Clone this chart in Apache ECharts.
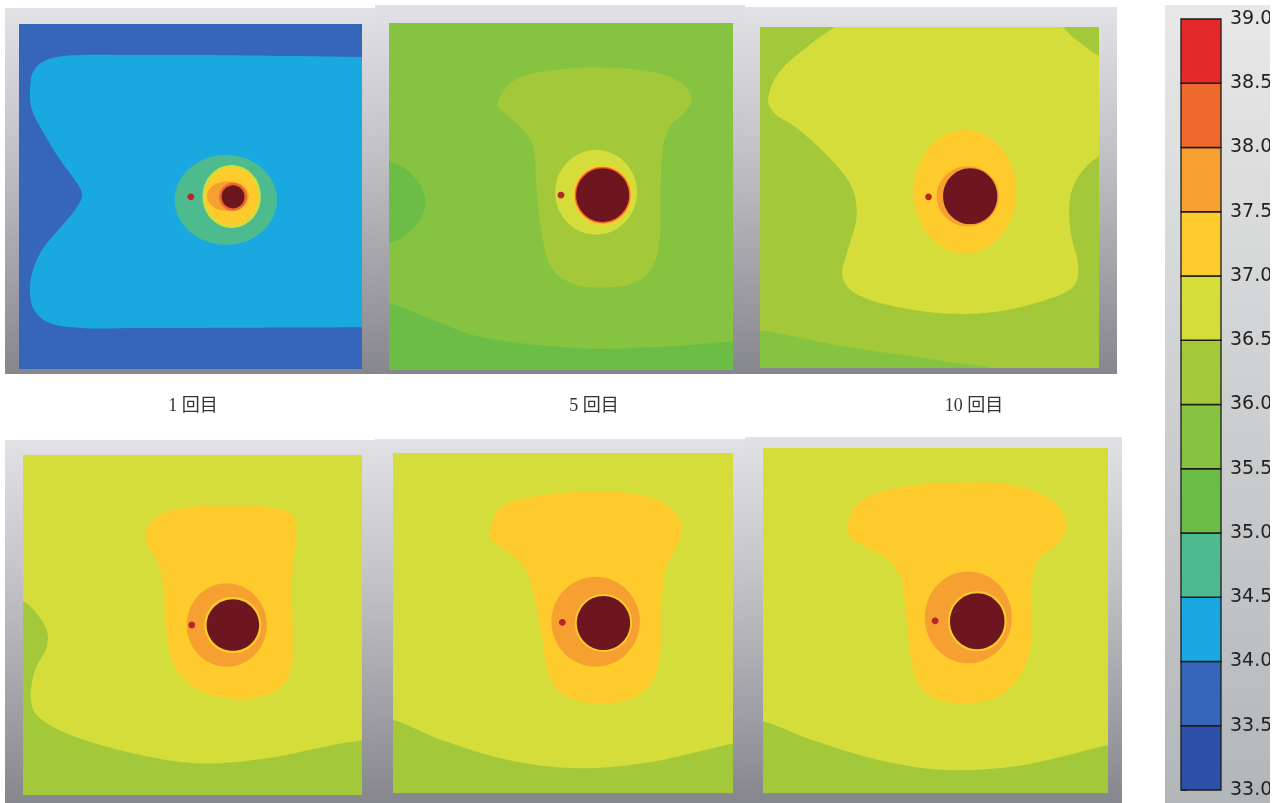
<!DOCTYPE html>
<html>
<head>
<meta charset="utf-8">
<script src="https://cdn.jsdelivr.net/npm/echarts@6.0.0/dist/echarts.min.js"></script>
<style>
html,body{margin:0;padding:0;background:#fff;overflow:hidden;}
#chart{width:1270px;height:803px;}
</style>
</head>
<body>
<div id="chart"></div>
<script>
// ---------------- data ----------------
// temperature bands of the colour scale (lower bound of each 0.5 degC band)
const bandLows = [33.0, 33.5, 34.0, 34.5, 35.0, 35.5, 36.0, 36.5, 37.0, 37.5, 38.0, 38.5];
const bandColors = ['#2d50a8','#3566b9','#19a9e0','#4dbb8e','#6bbd46','#86c341','#a3c93b','#d4dd3a','#fdcb2b','#f6a031','#ee6a2c','#e4292a'];
const coreColor = '#6e1620';   // > 39.0 (heat source)
const dotColor = '#b8262b';    // sensor point
const panelTitles = ['1 回目', '5 回目', '10 回目'];

// contour outlines, in normalised domain units (x 0-100 left->right, y 0-100 top->bottom)
const P1_CYAN = [[17.8,9.0],[35,9.0],[52.8,9.0],[80,9.3],[100,9.6],[120,9.8],[120,87.8],[100,87.9],[80,88.0],[52.8,88.1],[35,88.1],[17.8,88.1],[9.0,86.7],[4.4,82.9],[3.2,77.1],[4.1,71.3],[6.7,65.5],[11.4,59.7],[16.3,53.9],[18.4,49.6],[16.3,45.2],[12.0,39.4],[6.7,30.7],[3.8,24.9],[3.2,19.1],[4.4,13.3],[9.0,10.1]];

const P2_LEFT = [[-8,38],[2,40.5],[7,44],[10.5,50],[9.5,56],[5,61],[0,63.5],[-8,64]];
const P2_BOTTOM = [[-10,80.3],[0.3,80.8],[10,84.5],[26.5,90.4],[55.5,93.7],[80,93.3],[100.1,91.8],[112,91.5],[112,115],[-10,115]];
const P2_BELL = [[31.8,22.2],[35.2,17.4],[41.0,14.7],[52.6,13.1],[62.3,12.9],[73.9,13.7],[83.6,16.4],[88.0,21.2],[86.5,25.1],[81.7,29.9],[79.7,35.6],[79.0,46.2],[78.8,60.6],[76.8,70.2],[71.0,75.0],[62.3,76.2],[53.6,75.2],[47.3,70.7],[44.4,60.6],[42.9,47.2],[41.9,35.6],[39.0,30.8],[34.2,26.5],[31.8,24.1]];

const P3_BOTTOM = [[-10,88.3],[0,88.9],[25.1,93.7],[54.6,98.1],[72,102],[72,115],[-10,115]];
const P3_MAIN = [[28,-4],[55,-8],[85,-3],[93,3.5],[100,8.5],[112,14],[112,33],[99.8,38.0],[93.9,43.9],[91.4,50.7],[91.7,60.5],[93.9,70.3],[92.4,76.2],[84.1,80.1],[69.3,83.5],[54.6,84.0],[39.8,82.0],[28.0,78.1],[24.3,73.2],[25.6,66.4],[28.5,55.6],[27.0,46.8],[20.1,38.0],[10.3,29.2],[4.5,25.5],[2.4,21.4],[5.4,13.6],[15.2,4.8],[22,0]];

const P4_GREEN = [[-8,42.5],[0,43.1],[4.0,46.6],[7.0,51.5],[7.0,56.4],[4.0,62.3],[2.6,67.1],[2.3,72],[4,76.5],[12.9,81.9],[32.5,87.7],[52.2,90.7],[71.9,89.2],[91.5,85.3],[99.9,84.0],[112,83],[112,115],[-8,115]];
const P4_BELL = [[36.5,22.1],[39.4,18.1],[46.3,15.7],[62.0,14.7],[74.8,15.7],[79.7,18.1],[80.7,23.0],[79.7,30.9],[79.3,43.6],[79.7,58.3],[77.3,67.1],[69.9,71.1],[61.1,71.6],[52.2,69.3],[45.3,63.2],[42.4,53.4],[41.4,38.7],[39.4,30.9],[36.5,26.0]];

const P5_BOTTOM = [[-10,77.5],[0.1,78.5],[14.3,84.4],[33.9,90.3],[53.5,92.7],[73.1,91.3],[87.9,88.3],[100.1,85.4],[112,84],[112,115],[-10,115]];
const P5_BELL = [[28.5,22.6],[32.0,15.8],[43.7,12.4],[63.3,11.4],[78.0,13.8],[83.9,18.7],[84.9,23.6],[82.4,29.5],[80.0,34.4],[79.0,44.2],[78.5,58.9],[76.1,67.7],[69.2,72.6],[58.4,73.6],[49.6,70.7],[45.7,64.8],[43.7,54.0],[40.8,39.3],[37.8,32.4],[32.9,28.5],[29.0,25.6]];

const P6_BOTTOM = [[-10,78.3],[0.1,79.3],[14.1,84.6],[33.4,90.4],[52.8,93.3],[72.1,92.4],[86.6,89.5],[100.1,86.1],[112,84.5],[112,115],[-10,115]];
const P6_BELL = [[24.3,22.8],[27.6,16.0],[38.3,11.7],[52.8,10.2],[72.1,10.7],[83.7,15.1],[88.0,21.8],[85.6,27.6],[79.8,32.5],[77.9,40.2],[77.9,54.7],[75.0,65.3],[68.2,72.1],[57.6,74.0],[48.9,72.1],[44.1,66.3],[42.1,54.7],[40.2,38.3],[36.3,32.5],[29.6,28.6],[25.2,25.7]];

// layers drawn bottom->top: [kind, band(0-11) | 12 core | 13 dot, ...geometry]
const panel1Layers = [['rect',1],['poly',2,P1_CYAN],['oval',3,60.3,51.0,14.9,13.0],['oval',7,62.0,50.0,8.5,9.1],['oval',8,62.0,50.0,7.7,8.3],['oval',9,60.9,49.9,6.1,4.3],['oval',10,62.4,50.1,4.1,4.1],['oval',12,62.4,50.1,3.35,3.35],['oval',13,50.1,50.1,1.0,1.0]];
const panel2Layers = [['rect',5],['poly',4,P2_LEFT],['poly',4,P2_BOTTOM],['poly',6,P2_BELL],['oval',7,60.2,48.8,11.9,12.2],['oval',8,62.1,49.6,8.6,8.7],['oval',10,62.1,49.6,8.1,8.2],['oval',12,62.1,49.6,7.7,7.75],['oval',13,50.0,49.6,1.0,1.0]];
const panel3Layers = [['rect',6],['poly',5,P3_BOTTOM],['poly',7,P3_MAIN],['oval',8,60.5,48.3,15.2,18.1],['oval',9,61.3,49.6,9.2,8.8],['oval',12,62.0,49.6,8.0,8.2],['oval',13,49.7,49.8,1.0,1.0]];
const panel4Layers = [['rect',7],['poly',6,P4_GREEN],['poly',8,P4_BELL],['oval',9,60.1,50.0,11.8,12.3],['oval',8,61.9,50.0,8.4,8.3],['oval',12,61.9,50.0,7.75,7.6],['oval',13,49.8,50.0,1.0,1.0]];
const panel5Layers = [['rect',7],['poly',6,P5_BOTTOM],['poly',8,P5_BELL],['oval',9,59.6,49.6,13.0,13.2],['oval',8,61.9,50.0,8.4,8.5],['oval',12,61.9,50.0,7.85,7.95],['oval',13,49.8,49.8,1.0,1.0]];
const panel6Layers = [['rect',7],['poly',6,P6_BOTTOM],['poly',8,P6_BELL],['oval',9,59.5,49.1,12.6,13.3],['oval',8,62.1,50.2,8.5,8.7],['oval',12,62.1,50.2,7.9,8.1],['oval',13,49.9,50.1,1.0,1.0]];

// ---------------- layout ----------------
const panelGrids = [
  {left:19, top:24, width:343, height:345},
  {left:389, top:23, width:344, height:347},
  {left:760, top:27, width:339, height:341},
  {left:23, top:455, width:339, height:340},
  {left:393, top:453, width:340, height:340},
  {left:763, top:448, width:345, height:345}
];
const frames = [
  [5, 8, 372, 366], [375, 5, 370, 369], [745, 7, 372, 367],
  [5, 440, 370, 363], [375, 439, 370, 364], [745, 437, 377, 366]
];
const titlePos = [[193, 406], [594, 406], [974, 406]];

const fills = bandColors.concat([coreColor, dotColor]);

function panelSeries(idx, layers) {
  return {
    type: 'custom',
    xAxisIndex: idx, yAxisIndex: idx,
    clip: true, silent: true,
    data: layers.map((l, i) => [i]),
    renderItem: function (params, api) {
      const L = layers[params.dataIndex];
      const fill = fills[L[1]];
      if (L[0] === 'rect') {
        const a = api.coord([0, 0]), b = api.coord([100, 100]);
        return {type: 'rect', shape: {x: Math.min(a[0], b[0]), y: Math.min(a[1], b[1]), width: Math.abs(b[0] - a[0]), height: Math.abs(b[1] - a[1])}, style: {fill: fill}};
      }
      if (L[0] === 'poly') {
        return {type: 'polygon', shape: {points: L[2].map(p => api.coord(p)), smooth: 0.35}, style: {fill: fill}};
      }
      const c = api.coord([L[2], L[3]]);
      const s = api.size([L[4], L[5]]);
      return {type: 'ellipse', shape: {cx: c[0], cy: c[1], rx: Math.abs(s[0]), ry: Math.abs(s[1])}, style: {fill: fill}};
    }
  };
}

const allLayers = [panel1Layers, panel2Layers, panel3Layers, panel4Layers, panel5Layers, panel6Layers];

const grids = panelGrids.map(g => Object.assign({outerBoundsMode: 'none', containLabel: false}, g));
grids.push({left: 1181, top: 19, width: 40, height: 771, outerBoundsMode: 'none', containLabel: false});

const xAxes = panelGrids.map((g, i) => ({type: 'value', gridIndex: i, min: 0, max: 100, show: false}));
xAxes.push({type: 'value', gridIndex: 6, min: 0, max: 1, show: false});
const yAxes = panelGrids.map((g, i) => ({type: 'value', gridIndex: i, min: 0, max: 100, inverse: true, show: false}));
yAxes.push({
  type: 'value', gridIndex: 6, min: 33, max: 39, interval: 0.5, position: 'right',
  splitLine: {show: false},
  axisLine: {show: true, lineStyle: {color: '#222', width: 1}},
  axisTick: {show: true, length: 6, lineStyle: {color: '#333', width: 1}},
  axisLabel: {show: true, margin: 9, fontSize: 19, color: '#222', fontFamily: '"DejaVu Sans", Verdana, sans-serif', formatter: v => v.toFixed(1)}
});

const series = allLayers.map((l, i) => panelSeries(i, l));
series.push({
  type: 'custom', xAxisIndex: 6, yAxisIndex: 6, silent: true,
  data: bandLows.map((v, i) => [i, v]),
  renderItem: function (params, api) {
    const low = bandLows[params.dataIndex];
    const a = api.coord([0, low + 0.5]), b = api.coord([1, low]);
    return {type: 'rect', shape: {x: a[0], y: a[1], width: b[0] - a[0], height: b[1] - a[1]}, style: {fill: bandColors[params.dataIndex], stroke: '#1c1c1c', lineWidth: 1.3}};
  }
});

const graphic = [];
frames.forEach(f => {
  graphic.push({type: 'rect', z: -10, shape: {x: f[0], y: f[1], width: f[2], height: f[3]},
    style: {fill: new echarts.graphic.LinearGradient(0, 0, 0, 1, [
      {offset: 0, color: '#e2e2e6'}, {offset: 0.35, color: '#c6c6ca'}, {offset: 1, color: '#86868d'}])}});
});
graphic.push({type: 'rect', z: -10, shape: {x: 1165, y: 5, width: 110, height: 798},
  style: {fill: new echarts.graphic.LinearGradient(0, 0, 0, 1, [
    {offset: 0, color: '#e8e8e8'}, {offset: 1, color: '#b3b6b9'}])}});
panelTitles.forEach((t, i) => {
  graphic.push({type: 'text', x: titlePos[i][0], y: titlePos[i][1],
    style: {text: t, fill: '#333', font: '18px "Liberation Serif", "Noto Sans CJK JP", serif', textAlign: 'center', textVerticalAlign: 'middle'}});
});

const chart = echarts.init(document.getElementById('chart'), null, {renderer: 'canvas'});
chart.setOption({
  animation: false,
  backgroundColor: '#ffffff',
  grid: grids,
  xAxis: xAxes,
  yAxis: yAxes,
  graphic: graphic,
  series: series
});
</script>
</body>
</html>
